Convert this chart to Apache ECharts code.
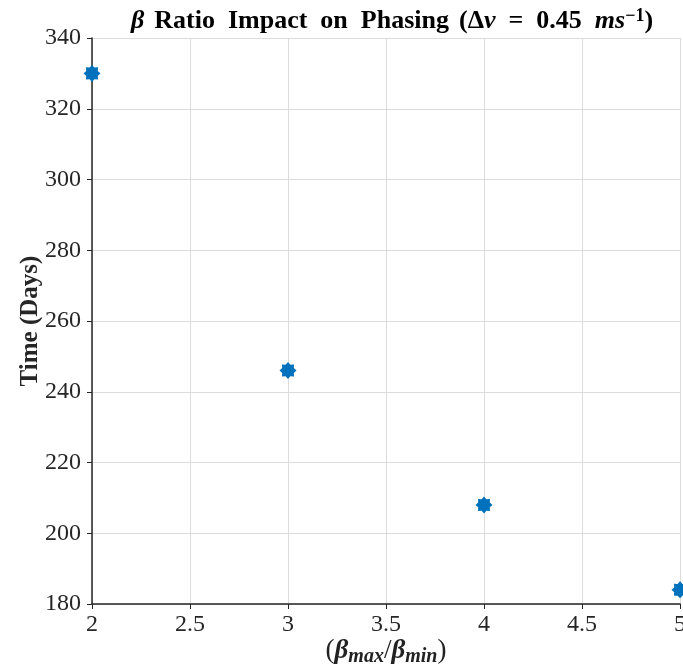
<!DOCTYPE html>
<html><head><meta charset="utf-8">
<script src="https://cdn.jsdelivr.net/npm/echarts@6/dist/echarts.min.js"></script>
<style>html,body{margin:0;padding:0;background:#fff}#c{width:683px;height:670px}</style>
</head><body><div id="c"></div>
<script>
const betaRatio = [2, 3, 4, 5];
const timeDays = [330, 246, 208, 184];
const xTicks = [2, 2.5, 3, 3.5, 4, 4.5, 5];
const yTicks = [180, 200, 220, 240, 260, 280, 300, 320, 340];

// asterisk-like marker shape
function starPath() {
  let p = '';
  const n = 8, ro = 1, ri = 0.74;
  for (let i = 0; i < n * 2; i++) {
    const a = Math.PI * i / n - Math.PI / 2;
    const r = i % 2 === 0 ? ro : ri;
    p += (i === 0 ? 'M' : 'L') + (r * Math.cos(a)).toFixed(3) + ' ' + (r * Math.sin(a)).toFixed(3) + ' ';
  }
  return 'path://' + p + 'Z';
}

const F = 'Liberation Serif, Times New Roman, serif';
const chart = echarts.init(document.getElementById('c'));
chart.setOption({
  animation: false,
  backgroundColor: '#fff',
  title: {
    text: '{bi|β}  {b|Ratio  Impact  on  Phasing}  {n|(}{b|Δ}{bi|v}{n|  =  0.45  }{bi|ms}{sup|−1}{n|)}',
    left: 387, textAlign: 'center', top: 2,
    textStyle: {
      rich: {
        b: {fontFamily: F, fontWeight: 'bold', fontSize: 26, color: '#000'},
        bi: {fontFamily: F, fontWeight: 'bold', fontStyle: 'italic', fontSize: 26, color: '#000'},
        n: {fontFamily: F, fontSize: 26, color: '#000'},
        sup: {fontFamily: F, fontWeight: 'bold', fontSize: 18, color: '#000', verticalAlign: 'top', padding: [0, 0, 10, 0]}
      }
    }
  },
  grid: {left: 92, right: 3, top: 38, bottom: 66, containLabel: false, outerBoundsMode: 'none'},
  xAxis: {
    type: 'value', min: 2, max: 5, interval: 0.5,
    name: '{n|(}{bi|β}{s|max}{n|/}{bi|β}{s|min}{n|)}',
    nameLocation: 'middle', nameGap: 31, nameMoveOverlap: false,
    nameTextStyle: {
      rich: {
        n: {fontFamily: F, fontSize: 27, color: '#222'},
        bi: {fontFamily: F, fontWeight: 'bold', fontStyle: 'italic', fontSize: 27, color: '#222'},
        s: {fontFamily: F, fontWeight: 'bold', fontStyle: 'italic', fontSize: 20, color: '#222', padding: [12, 0, 0, 0]}
      }
    },
    axisLine: {show: true, lineStyle: {color: '#262626', width: 1.5}},
    axisTick: {show: true, inside: false, length: 5, lineStyle: {color: '#262626'}},
    axisLabel: {fontFamily: F, fontSize: 24, color: '#262626', margin: 9,
      formatter: v => String(v)},
    splitLine: {show: true, lineStyle: {color: '#dcdcdc', width: 1}}
  },
  yAxis: {
    type: 'value', min: 180, max: 340, interval: 20,
    name: 'Time (Days)', nameLocation: 'middle', nameGap: 49, nameMoveOverlap: false,
    nameTextStyle: {fontFamily: F, fontWeight: 'bold', fontSize: 25, color: '#262626'},
    axisLine: {show: true, lineStyle: {color: '#262626', width: 1.5}},
    axisTick: {show: true, inside: false, length: 5, lineStyle: {color: '#262626'}},
    axisLabel: {fontFamily: F, fontSize: 24, color: '#262626', margin: 11},
    splitLine: {show: true, lineStyle: {color: '#dcdcdc', width: 1}}
  },
  series: [{
    type: 'scatter',
    data: betaRatio.map((x, i) => [x, timeDays[i]]),
    symbol: starPath(), symbolSize: 17,
    itemStyle: {color: '#0072BD', opacity: 1},
    clip: false
  }]
});
</script></body></html>
